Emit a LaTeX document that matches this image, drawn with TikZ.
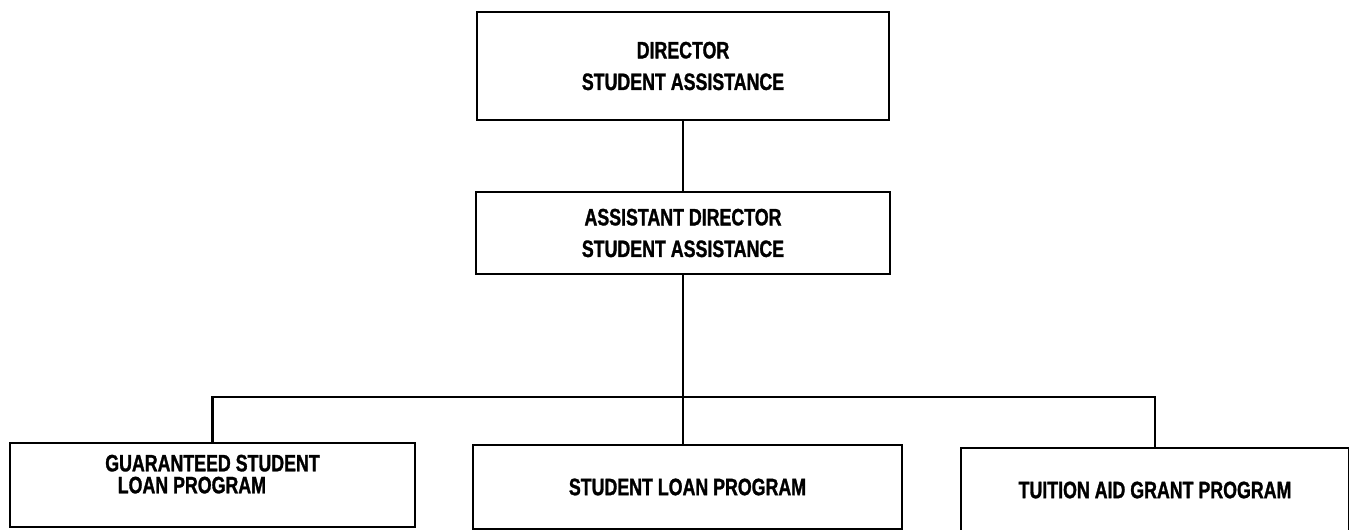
\documentclass[tikz,border=0pt]{standalone}
\usepackage{fontspec}
\newfontfamily\chartfont[FakeStretch=0.75, BoldFeatures={FakeBold=1.2}]{Liberation Sans}
\usetikzlibrary{positioning, calc}

\begin{document}
\begin{tikzpicture}[
    x=0.02cm, y=-0.02cm,
    font=\chartfont\bfseries\fontsize{13.5}{18}\selectfont,
    % Office boxes
    office/.style={
        draw=black, line width=1.4pt,
        rectangle, inner sep=0pt,
        align=center
    },
    % Program boxes (bottom row)
    program/.style={
        draw=black, line width=1.4pt,
        rectangle, inner sep=0pt,
        minimum height=84*0.02cm
    },
    % Connector style
    link/.style={draw=black, line width=1.4pt}
]

% Page frame
\useasboundingbox (0,0) rectangle (1349,529);

% Director and assistant director
\node[office, minimum width=412*0.02cm, minimum height=108*0.02cm] (director) at (683,66)
    {DIRECTOR\\STUDENT ASSISTANCE};
\node[office, minimum width=414*0.02cm, minimum height=82*0.02cm] (assistant) at (683,233)
    {ASSISTANT DIRECTOR\\STUDENT ASSISTANCE};

% Programs (bottom row)
\node[program, minimum width=405*0.02cm, align=left,
      font=\chartfont\bfseries\fontsize{13.5}{12.5}\selectfont] (gsl) at (212.5,485)
    {GUARANTEED STUDENT\\\hspace*{0.25cm}LOAN PROGRAM\\\mbox{}};
\node[program, minimum width=429*0.02cm] (slp) at (687.5,487) {STUDENT LOAN PROGRAM};
\node[program, minimum width=388*0.02cm] (tag) at (1155,490) {TUITION AID GRANT PROGRAM};

% Branch point
\coordinate (bus) at (683,397);

% Connectors
\draw[link] (director.south) -- (assistant.north);
\draw[link] (assistant.south) -- (assistant.south |- slp.north);
\draw[link] (gsl.north) |- (bus) -| (tag.north);

\end{tikzpicture}
\end{document}
